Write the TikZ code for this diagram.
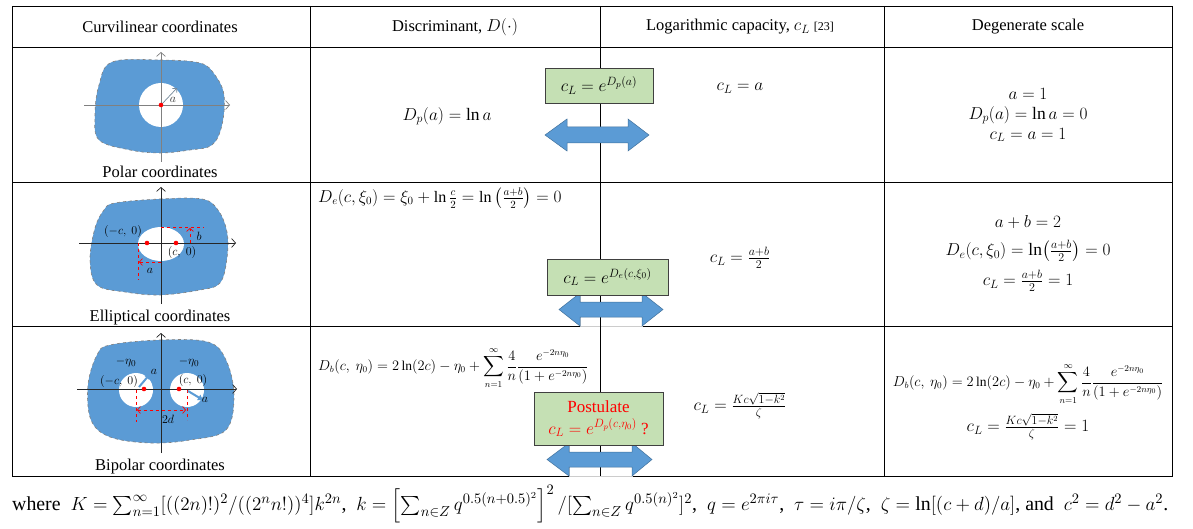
\documentclass[tikz,border=0pt]{standalone}
\usepackage{amsmath}
\usepackage{fontspec}
\setmainfont{Liberation Serif}
\usetikzlibrary{arrows.meta}
\definecolor{blobblue}{HTML}{5B9BD5}
\definecolor{arrowedge}{HTML}{41719C}
\definecolor{boxgreen}{HTML}{C5E0B4}
\begin{document}
\begin{tikzpicture}[x=1pt,y=-1pt,
  grid/.style={line width=0.9pt, black},
  blob/.style={fill=blobblue, draw=gray, dashed, line width=0.6pt},
  axis/.style={line width=0.7pt, -{Straight Barb[length=4pt,width=9pt]}},
  reddash/.style={red, dashed, line width=0.7pt},
  redtip/.style={-{Straight Barb[length=3pt,width=7pt]}},
  greenbox/.style={draw=black!75, fill=boxgreen, line width=0.9pt, inner sep=0pt, align=center},
  dblarrow/.style={fill=blobblue, draw=arrowedge, line width=0.5pt},
  hdr/.style={font=\fontsize{16.5}{19}\selectfont},
  captxt/.style={font=\fontsize{16.5}{19}\selectfont},
  lbl/.style={font=\fontsize{12.5}{14}\selectfont, inner sep=0pt},
  mth/.style={font=\fontsize{17.5}{20}\selectfont, inner sep=0pt},
  smth/.style={font=\fontsize{13.5}{16}\selectfont, inner sep=0pt},
  bluetip/.style={blobblue, line width=2pt, -{Triangle[length=5pt,width=6pt]}},
  whitepatch/.style={fill=white, draw=gray!40, line width=0.4pt}]
\path[use as bounding box] (0,0) rectangle (1193,529);

% ---------- table rules ----------
\draw[grid] (12,6) rectangle (1172,476);
\draw[grid] (12,47) -- (1172,47);
\draw[grid] (12,182) -- (1172,182);
\draw[grid] (12,326) -- (1172,326);
\draw[grid] (310,6) -- (310,476);
\draw[grid] (884,6) -- (884,476);

% white patches behind the arrows of rows 2 and 3
\path[whitepatch] (580,293) rectangle (642,326);
\path[whitepatch] (569,443) rectangle (632,476);
\draw[grid] (600,6) -- (600,476);

% ---------- headers ----------
\node[hdr] (h1) at (160,27) {Curvilinear coordinates};
\node[hdr] (h2) at (455,27) {Discriminant, $D(\cdot)$};
\node[hdr] (h3) at (740,27) {Logarithmic capacity, $c_L$ {\fontsize{12}{14}\selectfont[23]}};
\node[hdr] (h4) at (1028,27) {Degenerate scale};

% ---------- polar shape ----------
\path[blob] plot[smooth cycle, tension=0.6] coordinates {(112,62) (160,60) (200,63) (215,75) (224,95) (222,125) (212,145) (190,150) (160,153) (130,150) (99,140) (95,115) (99,85)};
\fill[white] (161,105) circle (22);
\draw[axis, gray] (84,105) -- (230,105);
\draw[axis, gray] (161,162) -- (161,52);
\draw[gray!70!blobblue, line width=0.7pt, -{Straight Barb[length=3pt,width=6pt]}] (161,105) -- (177,88);
\fill[red] (161,105) circle (2.3);
\node[lbl, gray!40!black] (la) at (173,100) {$a$};
\node[captxt] (c1) at (160,172) {Polar coordinates};

% ---------- elliptical shape ----------
\path[blob] plot[smooth cycle, tension=0.6] coordinates {(115,203) (160,199) (202,199) (218,210) (227,232) (227,258) (220,283) (200,290) (160,295) (125,292) (97,285) (90,260) (95,228) (104,210)};
\fill[white] (161,244) ellipse (23 and 17);
\draw[axis, black!85] (79,243) -- (236,243);
\draw[axis, black!85] (161,304) -- (161,187);
\draw[reddash] (161,227) -- (204,227);
\draw[reddash, redtip] (190,243) -- (190,228);
\draw[reddash] (138,243) -- (138,280);
\draw[reddash, redtip] (161,262) -- (139,262);
\fill[red] (147,243) circle (2.3);
\fill[red] (176,243) circle (2.3);
\node[lbl] (lmc) at (123,232) {$(-c,\ 0)$};
\node[lbl] (lpc) at (182,252) {$(c,\ 0)$};
\node[lbl] (lb) at (199,236) {$b$};
\node[lbl] (la2) at (150,271) {$a$};
\node[captxt] (c2) at (160,318) {Elliptical coordinates};

% ---------- bipolar shape ----------
\path[blob] plot[smooth cycle, tension=0.6] coordinates {(110,345) (160,340) (208,342) (226,360) (234,395) (226,430) (190,440) (150,443) (110,437) (91,420) (88,385) (97,355)};
\fill[white] (136,390) circle (17);
\fill[white] (187,390) circle (17);
\draw[axis, black!85] (77,389) -- (237,389);
\draw[axis, black!85] (161,453) -- (161,333);
\draw[reddash] (136,390) -- (136,422);
\draw[reddash] (187,390) -- (187,420);
\draw[reddash, {Straight Barb[length=3pt,width=7pt]}-{Straight Barb[length=3pt,width=7pt]}] (137,410) -- (186,410);
\draw[bluetip] (139,387) -- (150,374);
\draw[bluetip] (188,391) -- (203,400);
\fill[red] (144,389) circle (2.3);
\fill[red] (179,389) circle (2.3);
\node[lbl] (le1) at (126,362) {$-\eta_0$};
\node[lbl] (le2) at (189,362) {$-\eta_0$};
\node[lbl] (lmc3) at (119,381) {$(-c,\ 0)$};
\node[lbl] (lpc3) at (193,380) {$(c,\ 0)$};
\node[lbl] (la3) at (154,372) {$a$};
\node[lbl] (la4) at (205,400) {$a$};
\node[lbl] (l2d) at (168,419) {$2d$};
\node[captxt] (c3) at (160,467) {Bipolar coordinates};

% ---------- row 1 ----------
\node[mth] (dp) at (447,116) {$D_p(a)=\ln a$};
\node[mth] (cl1) at (740,88) {$c_L=a$};
\node[mth, align=center] (dg1) at (1028,115) {$a=1$\\ $D_p(a)=\ln a=0$\\ $c_L=a=1$};
\path[dblarrow] (545,135) -- (567,119) -- (567,127) -- (628,127) -- (628,119) -- (649,135) -- (628,151) -- (628,143) -- (567,143) -- (567,151) -- cycle;
\node[greenbox, minimum width=108pt, minimum height=35pt, font=\fontsize{18}{20}\selectfont] (b1) at (599,85.5) {$c_L=e^{D_p(a)}$};

% ---------- row 2 ----------
\node[mth, anchor=west, font=\fontsize{16}{18}\selectfont] (de) at (318,198) {$D_e(c,\xi_0)=\xi_0+\ln\frac{c}{2}=\ln\left(\frac{a+b}{2}\right)=0$};
\node[mth] (cl2) at (740,258) {$c_L=\frac{a+b}{2}$};
\node[mth] (dg2a) at (1028,222) {$a+b=2$};
\node[mth] (dg2b) at (1028,251) {$D_e(c,\xi_0)=\ln\bigl(\frac{a+b}{2}\bigr)=0$};
\node[mth] (dg2c) at (1028,281) {$c_L=\frac{a+b}{2}=1$};
\path[dblarrow] (559,309.5) -- (580,293) -- (580,302) -- (642,302) -- (642,293) -- (663,309.5) -- (642,326) -- (642,317) -- (580,317) -- (580,326) -- cycle;
\node[greenbox, minimum width=121pt, minimum height=36pt, font=\fontsize{18}{20}\selectfont] (b2) at (607.5,277) {$c_L=e^{D_e(c,\xi_0)}$};

% ---------- row 3 ----------
\node[smth, anchor=west] (db) at (318,368) {$D_b(c,\ \eta_0)=2\ln(2c)-\eta_0+\displaystyle\sum_{n=1}^{\infty}\frac{4}{n}\frac{e^{-2n\eta_0}}{(1+e^{-2n\eta_0})}$};
\node[mth, font=\fontsize{16.5}{19}\selectfont] (cl3) at (740,406) {$c_L=\frac{Kc\sqrt{1-k^2}}{\zeta}$};
\node[smth] (dg3a) at (1028,384) {$D_b(c,\ \eta_0)=2\ln(2c)-\eta_0+\displaystyle\sum_{n=1}^{\infty}\frac{4}{n}\frac{e^{-2n\eta_0}}{(1+e^{-2n\eta_0})}$};
\node[mth, font=\fontsize{16.5}{19}\selectfont] (dg3b) at (1028,427) {$c_L=\frac{Kc\sqrt{1-k^2}}{\zeta}=1$};
\path[dblarrow] (547,459.5) -- (569,443) -- (569,452) -- (632,452) -- (632,443) -- (652,459.5) -- (632,476) -- (632,467) -- (569,467) -- (569,476) -- cycle;
\node[greenbox, minimum width=129pt, minimum height=53pt, text=red, font=\fontsize{17}{22}\selectfont] (b3) at (598.5,418.5) {Postulate\\ $c_L=e^{D_p(c,\eta_0)}$ ?};

% ---------- bottom line ----------
\node[anchor=west, inner sep=0pt, font=\fontsize{15}{17}\selectfont] (where) at (12,504) {\resizebox{1156pt}{!}{where\ \ $K=\sum_{n=1}^{\infty}[((2n)!)^2/((2^n n!))^4]k^{2n}$,\ \ $k=\left[\sum_{n\in Z}q^{0.5(n+0.5)^2}\right]^2/[\sum_{n\in Z}q^{0.5(n)^2}]^2$,\ \ $q=e^{2\pi i\tau}$,\ \ $\tau=i\pi/\zeta$,\ \ $\zeta=\ln[(c+d)/a]$, and\ \ $c^2=d^2-a^2$.}};
\end{tikzpicture}
\end{document}
